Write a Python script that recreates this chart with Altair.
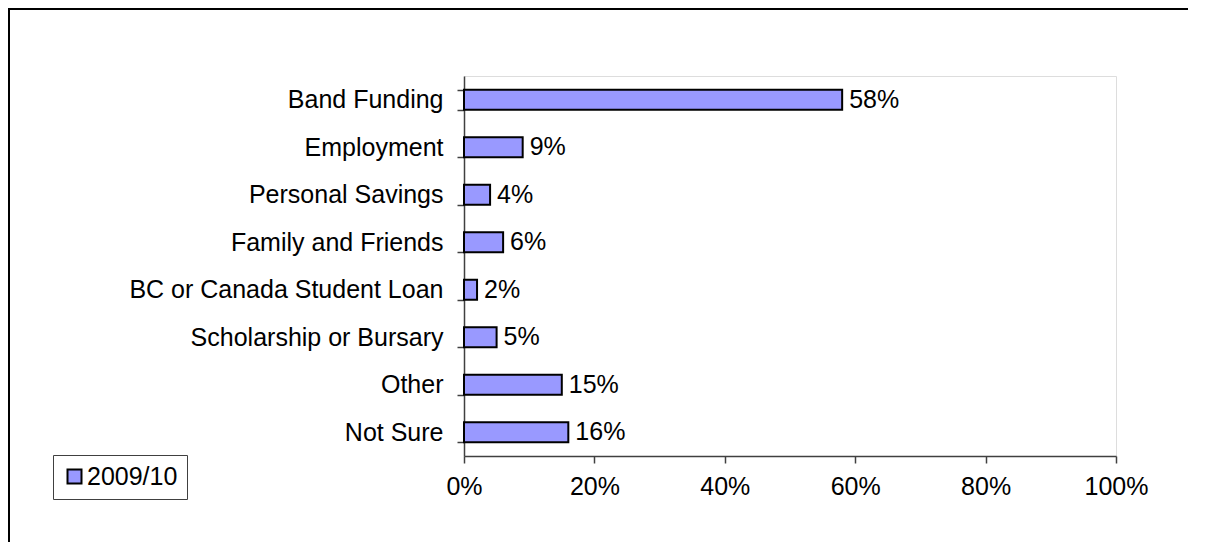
import altair as alt
import pandas as pd

categories = ["Band Funding", "Employment", "Personal Savings", "Family and Friends",
              "BC or Canada Student Loan", "Scholarship or Bursary", "Other", "Not Sure"]
values = [0.58, 0.09, 0.04, 0.06, 0.02, 0.05, 0.15, 0.16]
series_name = "2009/10"
x_ticks = [0, 0.2, 0.4, 0.6, 0.8, 1.0]

df = pd.DataFrame({"category": categories, "value": values, "series": [series_name] * len(categories)})

FONT = "Liberation Sans"
FS = 25

y_enc = alt.Y("category:N", sort=categories, title=None,
              scale=alt.Scale(paddingInner=0.58, paddingOuter=0.29),
              axis=alt.Axis(tickBand="extent", tickSize=7, tickColor="#404040", tickWidth=1.5,
                            domainColor="#404040", domainWidth=1.5, labelLimit=600,
                            labelFontSize=FS, labelColor="black", labelPadding=14, labelFont=FONT))
x_enc = alt.X("value:Q", title=None,
              scale=alt.Scale(domain=[0, 1], nice=False),
              axis=alt.Axis(values=x_ticks, format=".0%", grid=False, tickSize=7, labelFlush=False,
                            tickColor="#404040", tickWidth=1.5, domainColor="#404040", domainWidth=1.5,
                            labelFontSize=FS, labelColor="black", labelPadding=11, labelFont=FONT))

frame_df = pd.DataFrame({"a": [0]})
frame_top = alt.Chart(frame_df).mark_rule(color="black", strokeWidth=2, clip=False).encode(
    x=alt.value(-455), x2=alt.value(800), y=alt.value(-67))
frame_left = alt.Chart(frame_df).mark_rule(color="black", strokeWidth=2, clip=False).encode(
    x=alt.value(-455), y=alt.value(-68), y2=alt.value(600))

bars = alt.Chart(df).mark_bar(stroke="black", strokeWidth=2, opacity=1).encode(
    y=y_enc, x=x_enc,
    color=alt.Color("series:N", scale=alt.Scale(range=["#9999FF"]),
                    legend=alt.Legend(title=None, orient="none", legendX=-411, legendY=379,
                                      direction="vertical",
                                      symbolType="square", symbolSize=196, symbolStrokeColor="black",
                                      symbolStrokeWidth=2, symbolOpacity=1,
                                      labelFontSize=FS, labelFont=FONT, labelColor="black",
                                      labelOffset=0, padding=9, strokeColor="#404040",
                                      fillColor="white", cornerRadius=0)),
)

texts = alt.Chart(df).mark_text(align="left", baseline="middle", dx=7, fontSize=FS,
                                font=FONT, color="black").encode(
    y=alt.Y("category:N", sort=categories),
    x=alt.X("value:Q"),
    text=alt.Text("value:Q", format=".0%"),
)

chart = alt.layer(frame_top, frame_left, bars, texts).properties(
    width=652, height=380,
    autosize=alt.AutoSizeParams(type="none"),
    padding={"left": 456, "top": 68, "right": 72, "bottom": 86},
).configure_view(stroke="#808080", strokeWidth=1.5).configure(font=FONT)

chart.save("out.html", embed_options={"renderer": "svg", "actions": False})
